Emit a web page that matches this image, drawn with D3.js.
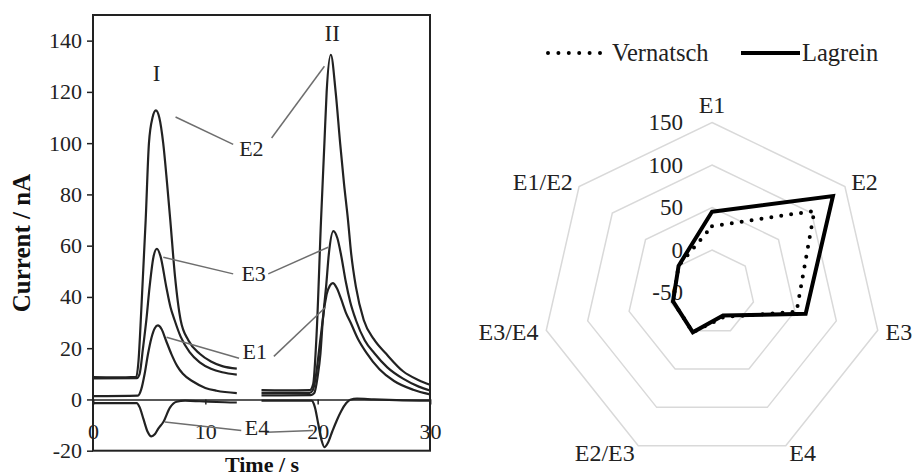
<!DOCTYPE html>
<html>
<head>
<meta charset="utf-8">
<script src="https://cdn.jsdelivr.net/npm/d3@7"></script>
<style>
  body { margin: 0; background: #fff; }
  svg { display: block; font-family: 'Liberation Serif', 'Times New Roman', serif; }
</style>
</head>
<body>
<div id="svg-container"></div>
<script>
// amperometric traces, [time s, current nA]
const e2RunI = [[0, 8.7], [2, 8.6], [3.85, 8.8], [4.05, 15], [4.3, 35], [4.69, 70], [4.98, 100], [5.3, 110], [5.6, 112.8], [5.9, 110], [6.25, 100], [6.6, 84], [6.88, 70], [7.3, 48], [7.8, 31], [8.5, 23], [9.5, 17.8], [10.5, 14.8], [11.5, 13], [12.8, 12]]
const e3RunI = [[0, 8.2], [3.9, 8.3], [4.15, 10], [4.45, 20], [4.75, 31], [5.04, 44], [5.4, 56], [5.69, 58.8], [6.0, 56], [6.52, 44], [6.9, 36], [7.26, 31], [7.8, 24.5], [8.6, 18.5], [9.5, 14.5], [10.5, 12], [11.5, 10.6], [12.8, 9.7]]
const e1RunI = [[0, 1.3], [4.0, 1.5], [4.3, 4], [4.6, 10], [4.9, 17.8], [5.2, 24], [5.5, 27.8], [5.78, 28.9], [6.1, 27.5], [6.5, 23], [6.97, 17.8], [7.5, 13], [8.0, 10], [8.9, 7], [10, 4.5], [11, 3.4], [12.8, 2.5]]
const e4RunI = [[0, -1.4], [3.89, -1.4], [4.15, -3], [4.48, -7.5], [4.85, -12.5], [5.2, -14.4], [5.5, -13.6], [5.81, -11.4], [6.26, -8.8], [6.85, -3.2], [7.44, -0.9], [8.2, -0.5], [9.5, -0.7], [11, -1], [12.8, -1.2]]

const e2RunII = [[15, 3.6], [17, 3.5], [19.3, 3.6], [19.6, 6], [19.9, 25], [20.3, 70], [20.6, 100], [20.8, 120], [21.17, 134.5], [21.6, 120], [22.0, 100], [22.35, 84], [22.7, 70], [22.98, 57], [23.4, 44], [24.1, 31], [25, 23.5], [26.1, 17.8], [27.6, 11], [29, 7.5], [30, 5.7]]
const e3RunII = [[15, 2.6], [19.3, 2.6], [19.55, 3.5], [19.8, 8], [20.2, 22], [20.5, 33], [20.75, 44], [21.0, 57], [21.4, 65.7], [21.75, 63], [22.1, 56], [22.5, 46], [22.9, 38], [23.4, 31], [24.2, 23], [25.05, 18], [26.2, 12.5], [27.6, 8.1], [29, 5], [30, 3.5]]
const e1RunII = [[15, 1.6], [19.4, 1.7], [19.7, 2.5], [20.0, 9], [20.25, 18], [20.46, 31], [20.8, 41], [21.1, 44.5], [21.35, 45.4], [21.7, 43.5], [22.1, 39], [22.5, 34], [22.98, 29.5], [23.6, 23.5], [24.3, 18.5], [25.5, 11.8], [26.8, 7.2], [28.5, 3.8], [30, 2.0]]
const e4RunII = [[15, -0.5], [19.45, -0.5], [19.75, -3], [20.05, -9.5], [20.35, -16], [20.6, -18.6], [20.9, -17], [21.3, -12.5], [21.7, -8.2], [22.1, -4.5], [22.55, -1.4], [22.9, -0.1], [23.5, 0.3], [25, 0], [27, -0.3], [30, -0.5]]

const traces = [e2RunI, e3RunI, e1RunI, e4RunI, e2RunII, e3RunII, e1RunII, e4RunII]

const xTicks = [0, 10, 20, 30]
const yTicks = [-20, 0, 20, 40, 60, 80, 100, 120, 140]

// electrode labels with their two leader lines, in data units
const tagNames = ['E2', 'E3', 'E1', 'E4']
const tagPos = [[14.1, 97.8], [14.3, 49], [14.4, 18.9], [14.6, -10.8]]
const leadersLeft = [[[7.35, 110.2], [12.48, 99.5]], [[6.26, 55.5], [12.48, 49]], [[6.55, 24.3], [13.0, 16.1]], [[6.4, -8.8], [13.2, -12.1]]]
const leadersRight = [[[15.9, 102], [20.6, 130]], [[15.6, 49], [20.93, 59.4]], [[16.1, 16.8], [20.7, 36]], [[15.45, -12.8], [19.6, -12.1]]]
const runNames = ['I', 'II']
const runPos = [[5.66, 127], [21.3, 142.7]]

// radar
const radarAxes = ['E1', 'E2', 'E3', 'E4', 'E2/E3', 'E3/E4', 'E1/E2']
const vernatsch = [28, 104, 52, -18, 2, -3, 0.3]
const lagrein = [45, 132, 63, -20, 2, -3, 0.3]
const radarTicks = [-50, 0, 50, 100, 150]
const seriesNames = ['Vernatsch', 'Lagrein']

const svg = d3.select('#svg-container').append('svg').attr('width', 912).attr('height', 476)

// ---------- left: traces ----------
const x = d3.scaleLinear().domain([0, 30]).range([93, 430])
const y = d3.scaleLinear().domain([-20, 150]).range([450.7, 15])

const left = svg.append('g')

left.append('g')
  .attr('transform', `translate(${x(0)},0)`)
  .call(d3.axisLeft(y).tickValues(yTicks).tickFormat(d => String(d)).tickSize(6).tickPadding(5))
  .call(g => g.select('.domain').remove())
  .call(g => g.selectAll('line').attr('stroke', '#222').attr('stroke-width', 1.5))
  .call(g => g.selectAll('text').attr('font-size', 22).attr('fill', '#222').attr('font-family', 'Liberation Serif'))

left.append('g')
  .attr('transform', `translate(0,${y(0)})`)
  .call(d3.axisBottom(x).tickValues(xTicks).tickFormat(d => String(d)).tickSize(5).tickPadding(19))
  .call(g => g.select('.domain').attr('stroke', '#222').attr('stroke-width', 1.5))
  .call(g => g.selectAll('line').attr('stroke', '#222').attr('stroke-width', 1.5))
  .call(g => g.selectAll('text').attr('font-size', 22).attr('fill', '#222').attr('font-family', 'Liberation Serif'))

left.append('rect')
  .attr('x', x(0)).attr('y', y(150))
  .attr('width', x(30) - x(0)).attr('height', y(-20) - y(150))
  .attr('fill', 'none').attr('stroke', '#222').attr('stroke-width', 2)

const trace = d3.line().x(d => x(d[0])).y(d => y(d[1])).curve(d3.curveMonotoneX)

left.selectAll('path.trace')
  .data(traces)
  .join('path')
  .attr('class', 'trace')
  .attr('d', trace)
  .attr('fill', 'none')
  .attr('stroke', '#222')
  .attr('stroke-width', 2.2)

const leaders = leadersLeft.concat(leadersRight)
left.selectAll('line.leader')
  .data(leaders)
  .join('line')
  .attr('class', 'leader')
  .attr('x1', d => x(d[0][0])).attr('y1', d => y(d[0][1]))
  .attr('x2', d => x(d[1][0])).attr('y2', d => y(d[1][1]))
  .attr('stroke', '#6e6e6e')
  .attr('stroke-width', 1.5)

left.selectAll('text.tag')
  .data(tagNames)
  .join('text')
  .attr('class', 'tag')
  .attr('x', (d, i) => x(tagPos[i][0]))
  .attr('y', (d, i) => y(tagPos[i][1]))
  .attr('text-anchor', 'middle')
  .attr('dominant-baseline', 'central')
  .attr('font-size', 22)
  .attr('fill', '#222')
  .text(d => d)

left.selectAll('text.run')
  .data(runNames)
  .join('text')
  .attr('class', 'run')
  .attr('x', (d, i) => x(runPos[i][0]))
  .attr('y', (d, i) => y(runPos[i][1]))
  .attr('text-anchor', 'middle')
  .attr('dominant-baseline', 'central')
  .attr('font-size', 23)
  .attr('fill', '#222')
  .text(d => d)

left.append('text')
  .attr('transform', 'translate(30,243) rotate(-90)')
  .attr('text-anchor', 'middle')
  .attr('font-size', 25)
  .attr('font-weight', 'bold')
  .attr('fill', '#111')
  .text('Current / nA')

left.append('text')
  .attr('x', 262).attr('y', 472)
  .attr('text-anchor', 'middle')
  .attr('font-size', 22)
  .attr('font-weight', 'bold')
  .attr('fill', '#111')
  .text('Time / s')

// ---------- right: radar ----------
const cx = 712
const cy = 292.5
const r = d3.scaleLinear().domain([-50, 150]).range([0, 170])
const angle = i => i * 2 * Math.PI / radarAxes.length

const radar = svg.append('g').attr('transform', `translate(${cx},${cy})`)

const ring = d3.lineRadial()
  .angle((d, i) => angle(i))
  .radius(d => r(d))
  .curve(d3.curveLinearClosed)

radar.selectAll('path.ring')
  .data(radarTicks.filter(v => v > -50))
  .join('path')
  .attr('class', 'ring')
  .attr('d', v => ring(radarAxes.map(() => v)))
  .attr('fill', 'none')
  .attr('stroke', '#d9d9d9')
  .attr('stroke-width', 1.5)

radar.selectAll('text.rtick')
  .data(radarTicks)
  .join('text')
  .attr('class', 'rtick')
  .attr('x', -29)
  .attr('y', v => -r(v))
  .attr('text-anchor', 'end')
  .attr('dominant-baseline', 'central')
  .attr('font-size', 23)
  .attr('fill', '#222')
  .text(v => v)

radar.selectAll('text.axis')
  .data(radarAxes)
  .join('text')
  .attr('class', 'axis')
  .attr('x', (d, i) => Math.sin(angle(i)) * (r(150) + 8))
  .attr('y', (d, i) => {
    const c = -Math.cos(angle(i))
    return c * (r(150) + 8) + (c < -0.9 ? -10 : 0)
  })
  .attr('text-anchor', (d, i) => {
    const s = Math.sin(angle(i))
    return Math.abs(s) < 0.1 ? 'middle' : s > 0 ? 'start' : 'end'
  })
  .attr('dominant-baseline', 'central')
  .attr('font-size', 24)
  .attr('fill', '#222')
  .text(d => d)

radar.append('path')
  .attr('d', ring(lagrein))
  .attr('fill', 'none')
  .attr('stroke', '#000')
  .attr('stroke-width', 4)
  .attr('stroke-linejoin', 'miter')

radar.append('path')
  .attr('d', ring(vernatsch))
  .attr('fill', 'none')
  .attr('stroke', '#000')
  .attr('stroke-width', 4)
  .attr('stroke-linecap', 'round')
  .attr('stroke-dasharray', '0 10')

// legend
const legend = svg.append('g')
const legendX = [548, 741]
const legendLen = [52, 59]

legend.selectAll('line')
  .data(seriesNames)
  .join('line')
  .attr('x1', (d, i) => legendX[i])
  .attr('x2', (d, i) => legendX[i] + legendLen[i])
  .attr('y1', 53).attr('y2', 53)
  .attr('stroke', '#000')
  .attr('stroke-width', 4)
  .attr('stroke-linecap', (d, i) => i === 0 ? 'round' : 'butt')
  .attr('stroke-dasharray', (d, i) => i === 0 ? '0 10.4' : null)

legend.selectAll('text')
  .data(seriesNames)
  .join('text')
  .attr('x', (d, i) => legendX[i] + legendLen[i] + (i === 0 ? 12 : 2))
  .attr('y', 61)
  .attr('font-size', 24.5)
  .attr('fill', '#222')
  .text(d => d)
</script>
</body>
</html>
